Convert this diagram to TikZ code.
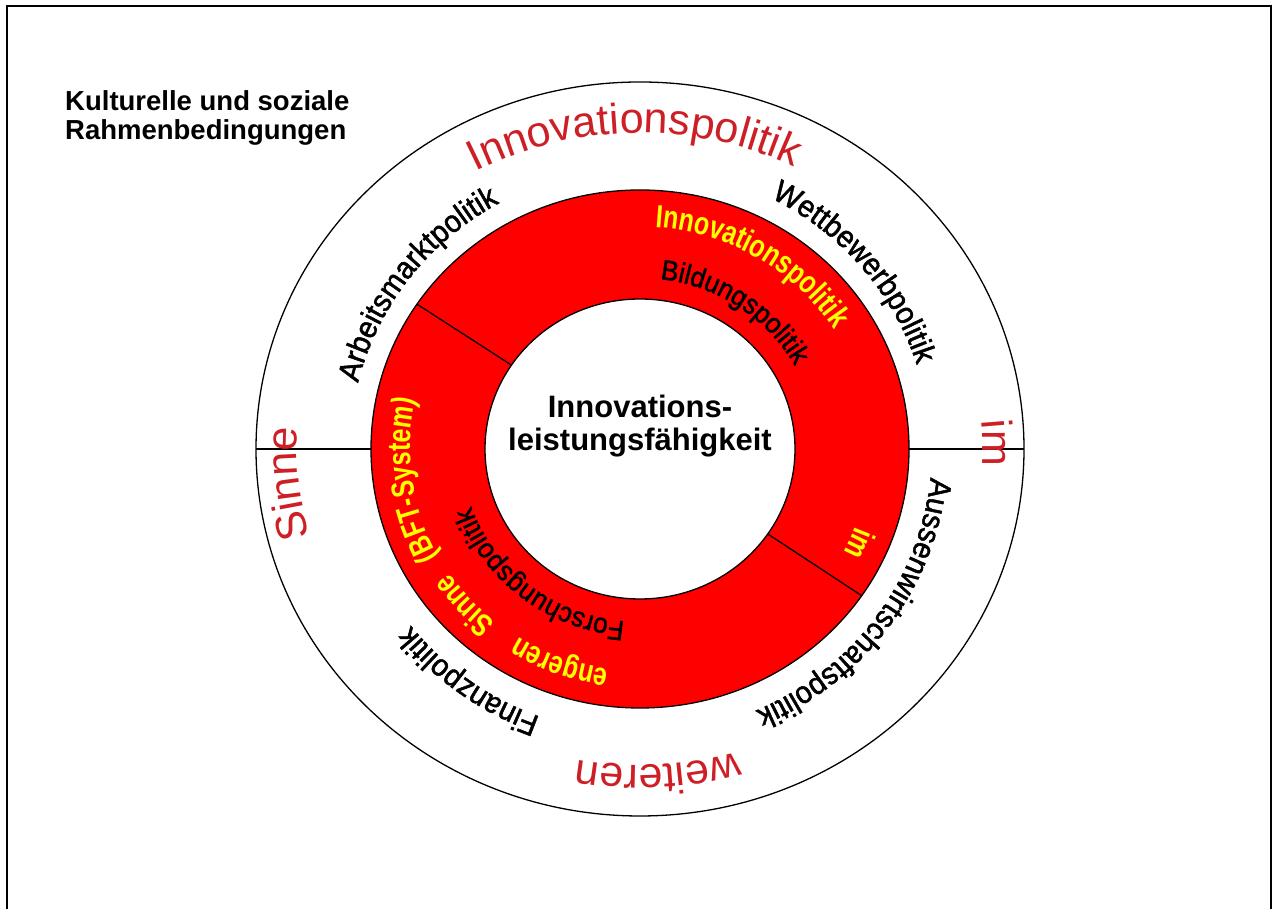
\documentclass[tikz,border=0pt]{standalone}
\usepackage{fontspec}
\setmainfont{Liberation Sans}
\newfontfamily\yelfam{Liberation Sans Bold}[FakeStretch=0.78]
\newfontfamily\midfam{Liberation Sans}[FakeBold=1.6,FakeStretch=0.93]
\usetikzlibrary{decorations.text}
\definecolor{outred}{RGB}{205,32,38}
\definecolor{ringred}{RGB}{255,0,0}
\definecolor{ringyel}{RGB}{255,255,0}
\newcommand\fOuter{\fontsize{43}{48}\selectfont}
\newcommand\fMid{\midfam\fontsize{31}{34}\selectfont}
\newcommand\fYel{\yelfam\fontsize{32}{34}\selectfont}
\newcommand\fInn{\midfam\fontsize{28}{30}\selectfont}
% colour, font, text, centre angle, half span, x radius, y radius
\newcommand\arctext[7]{%
  \path[decorate,decoration={text along path,text align=center,text color=#1,text={|#2|#3}}]
    (#4+#5:#6 and #7) arc[start angle=#4+#5,end angle=#4-#5,x radius=#6,y radius=#7];}
\tikzset{
  ringline/.style={draw=black,line width=1.3pt},
  labeltext/.style={font=\bfseries\fontsize{27.5}{30}\selectfont,inner sep=0pt},
  centretext/.style={font=\bfseries\fontsize{31}{34}\selectfont,inner sep=0pt},
}
\begin{document}
\begin{tikzpicture}[x=1pt,y=1pt]
\useasboundingbox (0,0) rectangle (1272,909);
\fill[white] (0,0) rectangle (1272,909);
% frame (bottom edge outside the picture)
\draw[line width=2pt] (7,-5) -- (7,903) -- (1270.5,903) -- (1270.5,-5);
% label
\node[labeltext,anchor=base west] (lab1) at (65,798) {Kulturelle und soziale};
\node[labeltext,anchor=base west] (lab2) at (65,769) {Rahmenbedingungen};
\begin{scope}[shift={(640,460)}]
  \coordinate (C) at (0,0);
  % rings
  \fill[ringred,even odd rule] (C) ellipse[x radius=269,y radius=259] (C) ellipse[x radius=155,y radius=150];
  \draw[ringline] (C) ellipse[x radius=384,y radius=367];
  \draw[ringline] (C) ellipse[x radius=269,y radius=259];
  \draw[ringline] (C) ellipse[x radius=155,y radius=150];
  % dividers
  \coordinate (hl1) at (180:384 and 367); \coordinate (hl2) at (180:269 and 259);
  \coordinate (hr1) at (0:384 and 367);   \coordinate (hr2) at (0:269 and 259);
  \coordinate (dl1) at (146:269 and 259); \coordinate (dl2) at (146:155 and 150);
  \coordinate (dr1) at (-34.5:269 and 259); \coordinate (dr2) at (-34.5:155 and 150);
  \draw[ringline] (hl1) -- (hl2);
  \draw[ringline] (hr1) -- (hr2);
  \draw[ringline] (dl1) -- (dl2);
  \draw[ringline] (dr1) -- (dr2);
  % outer ring red words
  \arctext{outred}{\fOuter}{Innovationspolitik}{91}{50}{343}{316}
  \arctext{outred}{\fOuter}{im}{1}{20}{343}{318}
  \arctext{outred}{\fOuter}{weiteren}{273}{35}{343}{316}
  \arctext{outred}{\fOuter}{Sinne}{186}{25}{343}{318}
  % middle ring black words
  \arctext{black}{\fMid}{Arbeitsmarktpolitik}{143}{45}{290}{281}
  \arctext{black}{\fMid}{Wettbewerbpolitik}{40}{45}{290}{281}
  \arctext{black}{\fMid}{Aussenwirtschaftspolitik}{-36}{50}{292}{285}
  \arctext{black}{\fMid}{Finanzpolitik}{234}{35}{292}{285}
  % red ring yellow words
  \arctext{ringyel}{\fYel}{Innovationspolitik}{59}{50}{230}{222}
  \arctext{ringyel}{\fYel}{im}{-24}{15}{230}{222}
  \arctext{ringyel}{\fYel}{engeren}{250}{25}{230}{222}
  \arctext{ringyel}{\fYel}{Sinne}{222.5}{15}{230}{222}
  \arctext{ringyel}{\fYel}{(BFT-System)}{188}{35}{230}{222}
  % red ring black words
  \arctext{black}{\fInn}{Bildungspolitik}{56}{45}{177}{171}
  \arctext{black}{\fInn}{Forschungspolitik}{232}{50}{179}{173}
  % centre
  \node[centretext,anchor=base] (c1) at (0,31) {Innovations-};
  \node[centretext,anchor=base] (c2) at (0,-2) {leistungsfähigkeit};
\end{scope}
\end{tikzpicture}
\end{document}
